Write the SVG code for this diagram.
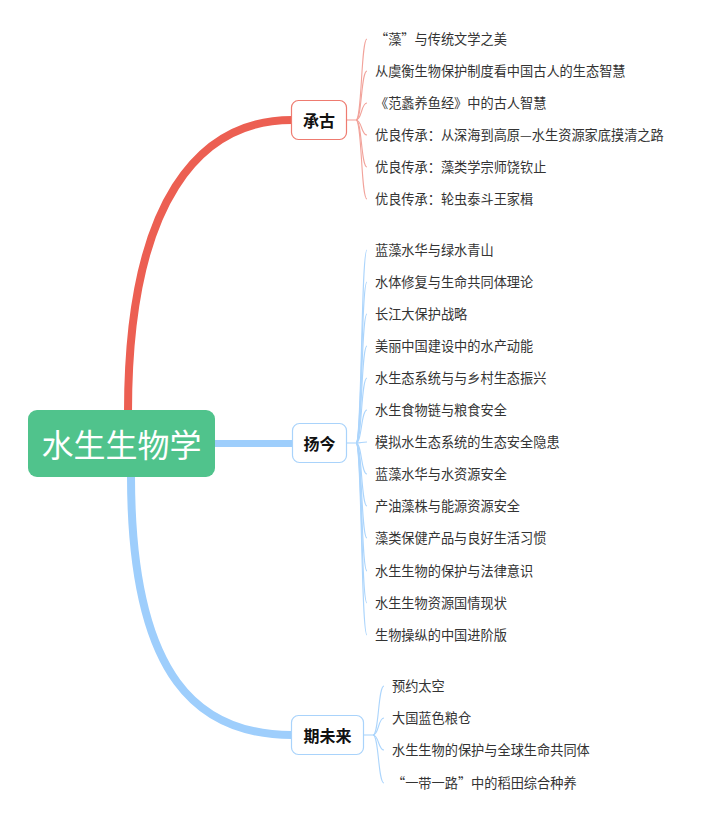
<svg xmlns="http://www.w3.org/2000/svg" width="704" height="823" viewBox="0 0 704 823">
<style>
.main{fill:none;stroke-linecap:butt}
.thin{fill:none;stroke-width:1.1}
.leaf{font-family:"Noto Sans CJK SC","Noto Sans",sans-serif;font-size:13.2px;fill:#333;dominant-baseline:central}
.topic{font-family:"Noto Sans CJK SC","Noto Sans",sans-serif;font-size:16px;font-weight:bold;fill:#111;text-anchor:middle;dominant-baseline:central}
.root{font-family:"Noto Sans CJK SC","Noto Sans",sans-serif;font-size:32px;fill:#fff;text-anchor:middle;dominant-baseline:central}
.red{stroke:#ec5f52}
.blue{stroke:#9ecefc}
.lred{stroke:#f2a39b}
.lblue{stroke:#acd5fc}
</style>
<rect width="704" height="823" fill="#fff"/>
<g id="connectors">
  <path class="main red" stroke-width="8" d="M128,412 C128,200 200,120 292,120"/>
  <path class="main blue" stroke-width="7" d="M214,443.5 L293,443.5"/>
  <path class="main blue" stroke-width="8" d="M131,476 C131,680 200,735 292,735"/>
  <g class="thin lred">
    <path d="M347,120 H356"/>
    <path d="M356,120 C362,120 361,39 367,39"/>
    <path d="M356,120 C362,120 361,71 367,71"/>
    <path d="M356,120 C362,120 361,103 367,103"/>
    <path d="M356,120 C362,120 361,135 367,135"/>
    <path d="M356,120 C362,120 361,167 367,167"/>
    <path d="M356,120 C362,120 361,199 367,199"/>
  </g>
  <g class="thin lblue">
    <path d="M347,443 H356"/>
    <path d="M356,443 C362,443 361,250 367,250"/>
    <path d="M356,443 C362,443 361,282 367,282"/>
    <path d="M356,443 C362,443 361,314 367,314"/>
    <path d="M356,443 C362,443 361,346 367,346"/>
    <path d="M356,443 C362,443 361,378 367,378"/>
    <path d="M356,443 C362,443 361,410 367,410"/>
    <path d="M356,443 C362,443 361,442 367,442"/>
    <path d="M356,443 C362,443 361,474 367,474"/>
    <path d="M356,443 C362,443 361,506 367,506"/>
    <path d="M356,443 C362,443 361,538 367,538"/>
    <path d="M356,443 C362,443 361,571 367,571"/>
    <path d="M356,443 C362,443 361,603 367,603"/>
    <path d="M356,443 C362,443 361,635 367,635"/>
  </g>
  <g class="thin lblue">
    <path d="M364,735 H373"/>
    <path d="M373,735 C379,735 378,686 384,686"/>
    <path d="M373,735 C379,735 378,718 384,718"/>
    <path d="M373,735 C379,735 378,750 384,750"/>
    <path d="M373,735 C379,735 378,783 384,783"/>
  </g>
</g>
<g id="root">
  <rect x="28" y="410" width="187" height="67" rx="9" fill="#50c38c"/>
  <text class="root" x="121.5" y="443">水生生物学</text>
</g>
<g id="chenggu">
  <rect x="291.5" y="100.5" width="55" height="39" rx="7" fill="#fff" stroke="#ee7b70" stroke-width="1.2"/>
  <text class="topic" x="319" y="119.5">承古</text>
</g>
<g id="yangjin">
  <rect x="292.5" y="423.5" width="54" height="39" rx="7" fill="#fff" stroke="#a9d3fb" stroke-width="1.2"/>
  <text class="topic" x="319.5" y="442.5">扬今</text>
</g>
<g id="qiweilai">
  <rect x="291.5" y="715.5" width="72" height="39" rx="7" fill="#fff" stroke="#a9d3fb" stroke-width="1.2"/>
  <text class="topic" x="327.5" y="734.5">期未来</text>
</g>
<g id="chenggu-leaves">
  <text class="leaf" x="375" y="38">“藻”与传统文学之美</text>
  <text class="leaf" x="375" y="70">从虞衡生物保护制度看中国古人的生态智慧</text>
  <text class="leaf" x="375" y="102">《范蠡养鱼经》中的古人智慧</text>
  <text class="leaf" x="375" y="134">优良传承：从深海到高原—水生资源家底摸清之路</text>
  <text class="leaf" x="375" y="166">优良传承：藻类学宗师饶钦止</text>
  <text class="leaf" x="375" y="198">优良传承：轮虫泰斗王家楫</text>
</g>
<g id="yangjin-leaves">
  <text class="leaf" x="375" y="249">蓝藻水华与绿水青山</text>
  <text class="leaf" x="375" y="281">水体修复与生命共同体理论</text>
  <text class="leaf" x="375" y="313">长江大保护战略</text>
  <text class="leaf" x="375" y="345">美丽中国建设中的水产动能</text>
  <text class="leaf" x="375" y="377">水生态系统与与乡村生态振兴</text>
  <text class="leaf" x="375" y="409">水生食物链与粮食安全</text>
  <text class="leaf" x="375" y="441">模拟水生态系统的生态安全隐患</text>
  <text class="leaf" x="375" y="473">蓝藻水华与水资源安全</text>
  <text class="leaf" x="375" y="505">产油藻株与能源资源安全</text>
  <text class="leaf" x="375" y="537">藻类保健产品与良好生活习惯</text>
  <text class="leaf" x="375" y="570">水生生物的保护与法律意识</text>
  <text class="leaf" x="375" y="602">水生生物资源国情现状</text>
  <text class="leaf" x="375" y="634">生物操纵的中国进阶版</text>
</g>
<g id="qiweilai-leaves">
  <text class="leaf" x="392" y="685">预约太空</text>
  <text class="leaf" x="392" y="717">大国蓝色粮仓</text>
  <text class="leaf" x="392" y="749">水生生物的保护与全球生命共同体</text>
  <text class="leaf" x="392" y="782">“一带一路”中的稻田综合种养</text>
</g>
</svg>
